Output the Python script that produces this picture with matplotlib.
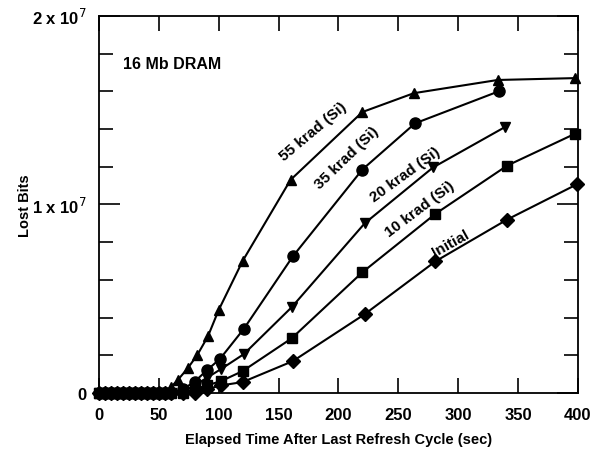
import matplotlib.pyplot as plt
import numpy as np

plt.rcParams['font.family'] = ['Liberation Sans', 'DejaVu Sans']

# elapsed time (sec) and lost bits (x 1e6) per dose
early_t = [0, 5, 10, 15, 20, 25, 30, 35, 40, 45, 50, 55]

t_55 = early_t + [60, 66, 74, 82, 91, 100, 120, 160, 220, 263, 333, 398]
v_55 = [0] * 12 + [0.3, 0.7, 1.3, 2.0, 3.0, 4.4, 7.0, 11.3, 14.9, 15.9, 16.6, 16.7]

t_35 = early_t + [60, 70, 80, 90, 101, 121, 162, 220, 264, 334]
v_35 = [0] * 12 + [0.0, 0.2, 0.6, 1.2, 1.8, 3.4, 7.25, 11.85, 14.3, 16.0]

t_20 = early_t + [60, 70, 80, 90, 102, 121, 161, 222, 279, 339]
v_20 = [0] * 12 + [0.0, 0.1, 0.4, 0.8, 1.27, 2.06, 4.55, 9.0, 11.96, 14.1]

t_10 = early_t + [60, 70, 80, 90, 102, 120, 161, 220, 281, 341, 398]
v_10 = [0] * 12 + [0.0, 0.0, 0.2, 0.4, 0.63, 1.16, 2.9, 6.4, 9.5, 12.06, 13.76]

t_init = early_t + [60, 70, 80, 90, 102, 120, 162, 222, 281, 341, 399]
v_init = [0] * 12 + [0.0, 0.0, 0.0, 0.2, 0.4, 0.58, 1.69, 4.18, 6.98, 9.2, 11.06]

series = [
    (t_55, v_55, '^', '55 krad (Si)', 179, 13.9, 40),
    (t_35, v_35, 'o', '35 krad (Si)', 207, 12.5, 44),
    (t_20, v_20, 'v', '20 krad (Si)', 256, 11.6, 36),
    (t_10, v_10, 's', '10 krad (Si)', 268, 9.8, 37),
    (t_init, v_init, 'D', 'Initial', 294, 7.95, 29),
]

fig = plt.figure(figsize=(6.07, 4.56), dpi=100)
ax = fig.add_axes([0.163, 0.136, 0.789, 0.827])

for t, v, m, lab, lx, ly, rot in series:
    ax.plot(t, np.array(v) * 1e6, color='black', lw=1.5, marker=m,
            ms=7 if m != 'o' else 8, clip_on=False)
    ax.text(lx, ly * 1e6, lab, rotation=rot, ha='center', va='center',
            fontsize=11, fontweight='bold')

ax.text(20, 17.45e6, '16 Mb DRAM', fontsize=11.5, fontweight='bold', va='center')

ax.set_xlim(0, 400)
ax.set_ylim(0, 2e7)
ax.set_xticks(np.arange(0, 401, 50))
ax.set_yticks([0, 1e7, 2e7])
ax.set_yticklabels(['0', r'1 x 10$^7$', r'2 x 10$^7$'])
ax.set_yticks(np.arange(0, 2e7 + 1, 2e6), minor=True)
ax.tick_params(axis='both', which='both', direction='in', top=True, right=True,
               width=1.2, labelsize=12)
ax.tick_params(axis='x', which='major', length=11, pad=10)
ax.tick_params(axis='y', which='major', length=15, pad=9)
ax.tick_params(axis='y', which='minor', length=10)
for lbl in ax.get_xticklabels() + ax.get_yticklabels():
    lbl.set_fontweight('bold')
for s in ax.spines.values():
    s.set_linewidth(1.3)

ax.set_xlabel('Elapsed Time After Last Refresh Cycle (sec)', fontsize=10.5,
              fontweight='bold', labelpad=7)
ax.set_ylabel('Lost Bits', fontsize=10.5, fontweight='bold', labelpad=0)

fig.savefig('out.png', dpi=100)
